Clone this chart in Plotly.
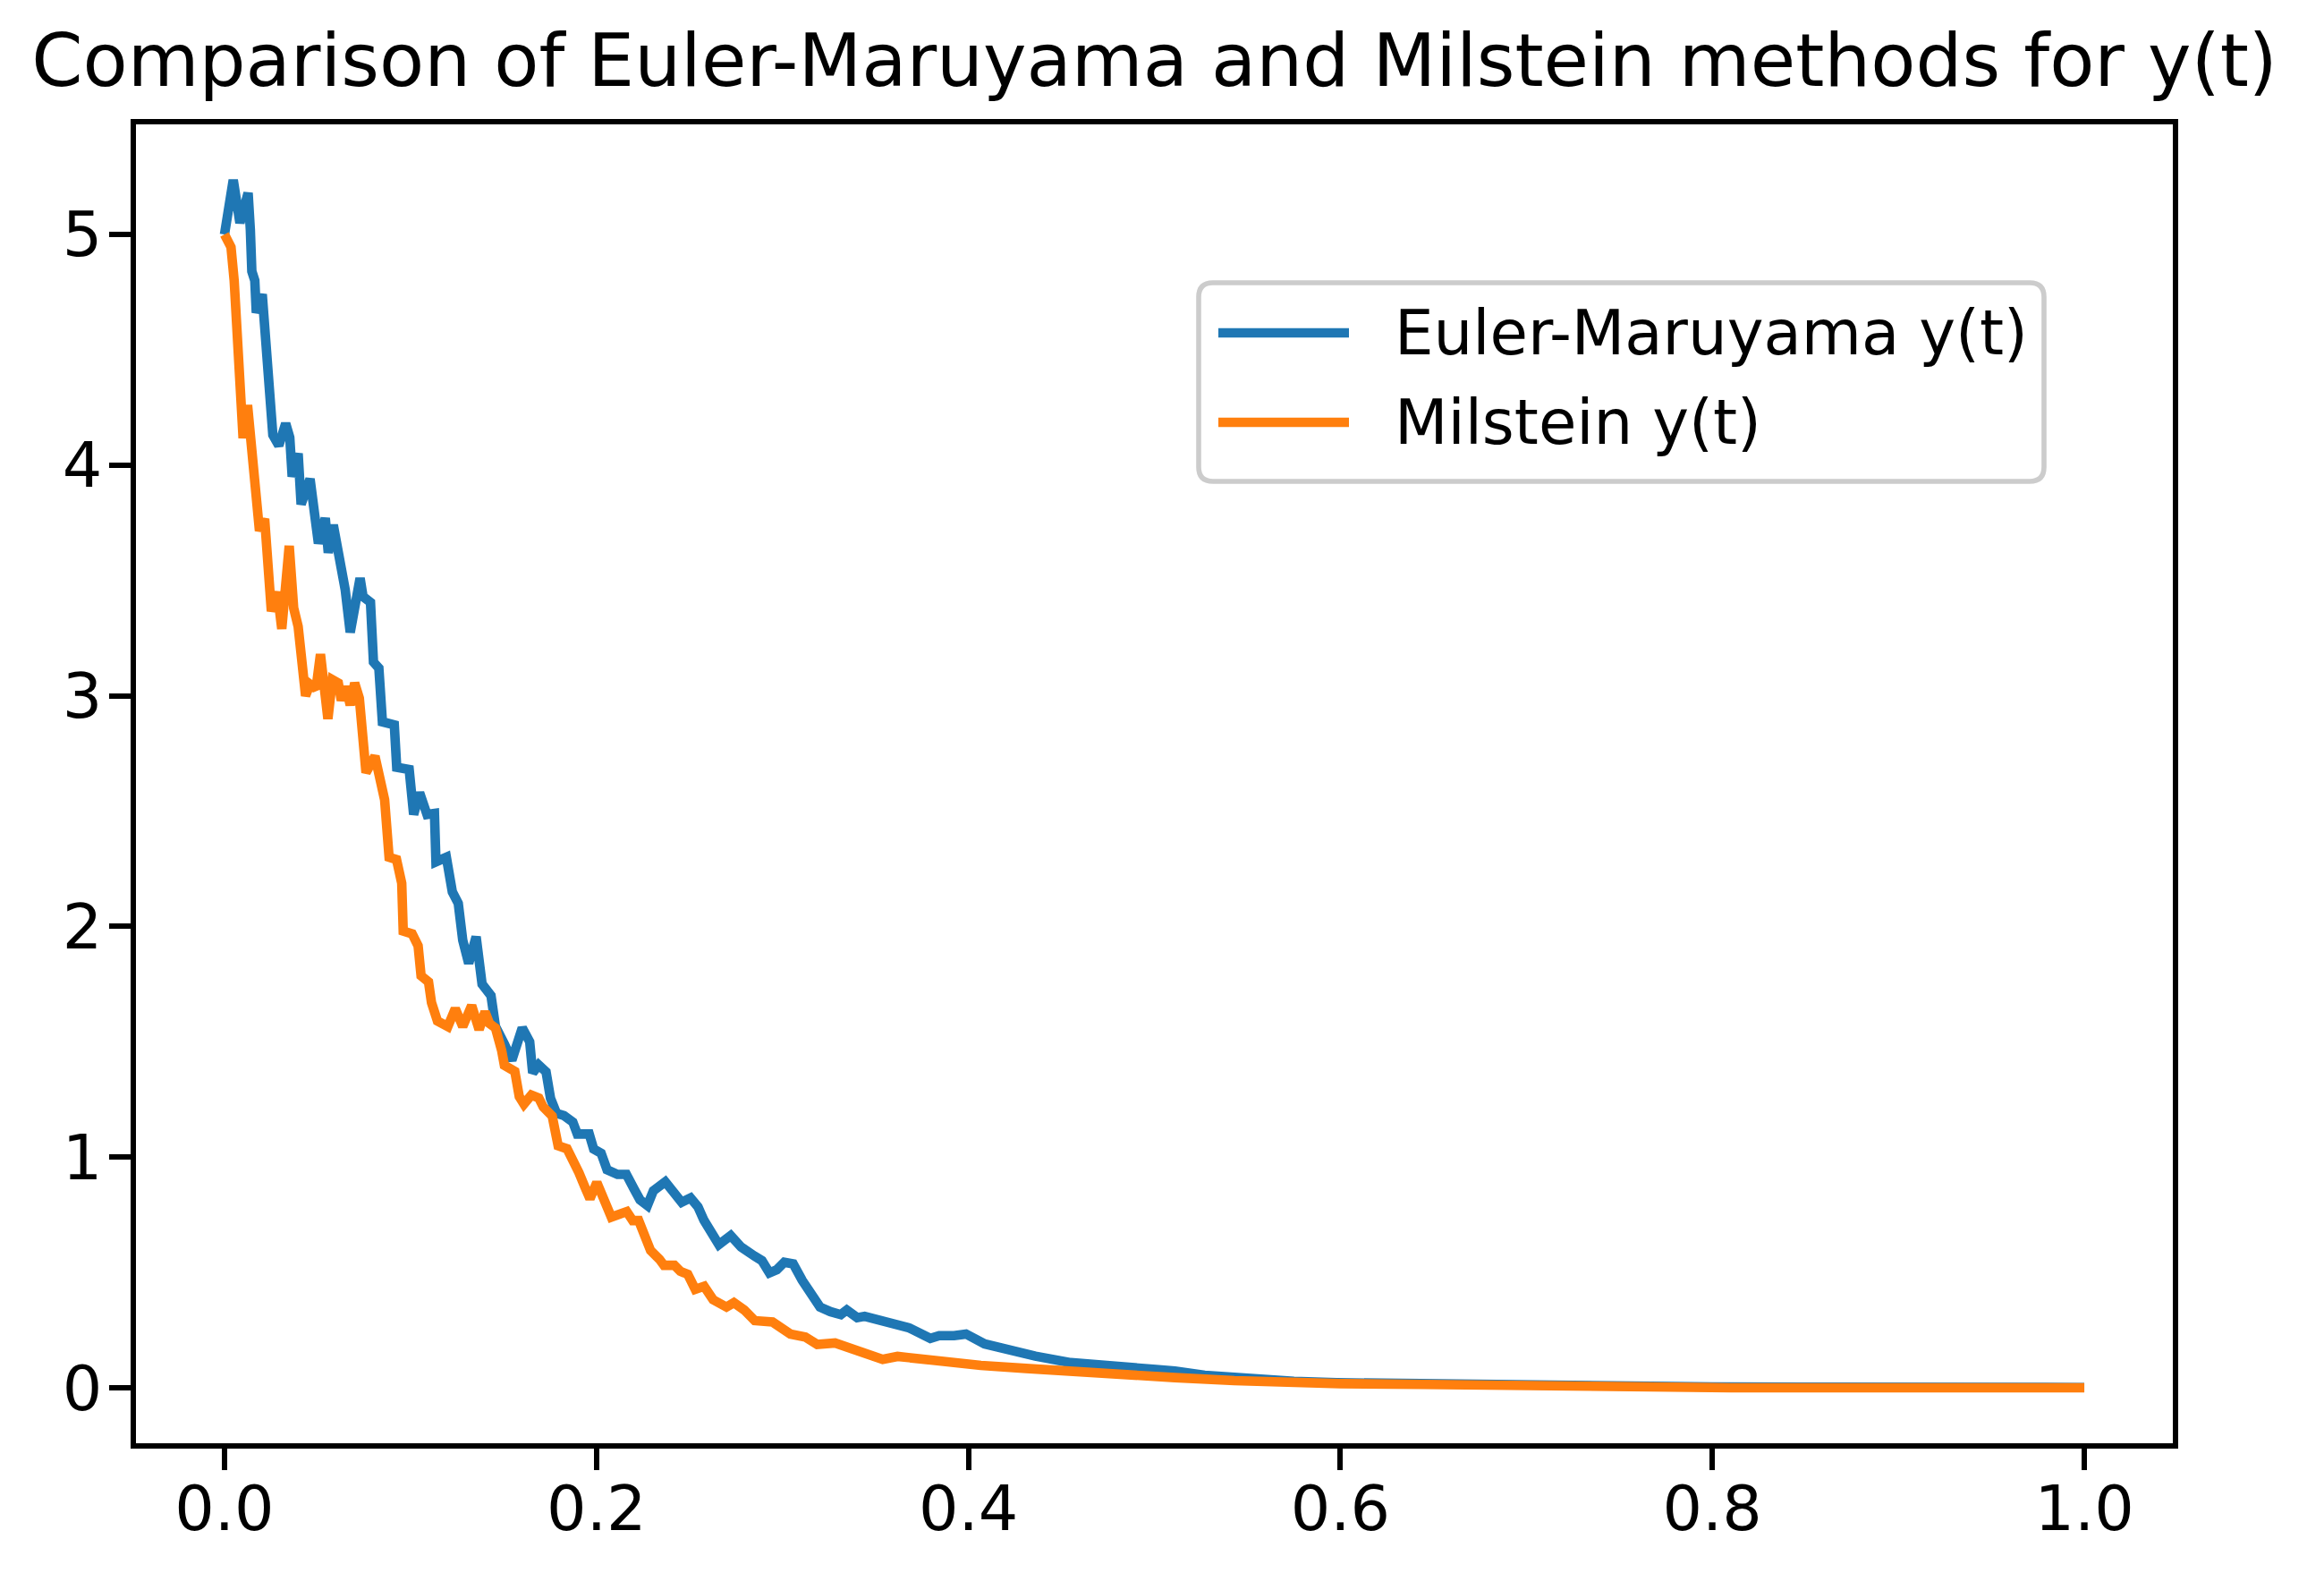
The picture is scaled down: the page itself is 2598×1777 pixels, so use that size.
import plotly.graph_objects as go

# ---------------- data ----------------
t_euler = [0.0, 0.0047, 0.0083, 0.0127, 0.0139, 0.0147, 0.0163, 0.0171, 0.0203, 0.0216,
           0.0236, 0.0252, 0.026, 0.0292, 0.0329, 0.0351, 0.0364, 0.0396, 0.0412, 0.046,
           0.0505, 0.0542, 0.0558, 0.0585, 0.0616, 0.0649, 0.0676, 0.0729, 0.0745, 0.0785,
           0.0801, 0.083, 0.0849, 0.0913, 0.0926, 0.0993, 0.1017, 0.1049, 0.1089, 0.1129,
           0.1137, 0.1193, 0.1225, 0.1257, 0.1281, 0.1313, 0.1353, 0.1385, 0.1433, 0.1457,
           0.1505, 0.1545, 0.1601, 0.1641, 0.1657, 0.1689, 0.1729, 0.1753, 0.1785, 0.1825,
           0.1873, 0.1897, 0.1961, 0.1985, 0.2025, 0.2057, 0.2113, 0.2161, 0.2202, 0.2234,
           0.2274, 0.2306, 0.237, 0.2426, 0.2458, 0.2506, 0.2546, 0.2578, 0.2618, 0.2658,
           0.2722, 0.2778, 0.285, 0.289, 0.293, 0.297, 0.301, 0.3058, 0.3106, 0.3162,
           0.3202, 0.3258, 0.3314, 0.3346, 0.3402, 0.3442, 0.3522, 0.3602, 0.3683, 0.3795,
           0.3843, 0.3923, 0.3987, 0.4087, 0.423, 0.436, 0.455, 0.479, 0.495, 0.511,
           0.527, 0.543, 0.559, 0.575, 0.598, 0.65, 0.7, 0.75, 0.8, 0.85,
           0.9, 0.93, 1.0]
y_euler = [5.0, 5.236, 5.05, 5.18, 5.02, 4.84, 4.80, 4.66, 4.74, 4.60,
           4.285, 4.23, 4.13, 4.085, 4.18, 4.12, 3.95, 4.05, 3.83, 3.94,
           3.66, 3.77, 3.62, 3.74, 3.62, 3.46, 3.275, 3.51, 3.43, 3.405,
           3.146, 3.12, 2.887, 2.874, 2.69, 2.68, 2.485, 2.58, 2.485, 2.49,
           2.28, 2.30, 2.15, 2.10, 1.94, 1.84, 1.955, 1.75, 1.70, 1.566,
           1.49, 1.42, 1.56, 1.50, 1.365, 1.40, 1.37, 1.255, 1.19, 1.18,
           1.152, 1.10, 1.10, 1.035, 1.017, 0.945, 0.925, 0.925, 0.862, 0.815,
           0.79, 0.854, 0.893, 0.843, 0.804, 0.823, 0.784, 0.726, 0.668, 0.621,
           0.66, 0.61, 0.571, 0.551, 0.498, 0.512, 0.544, 0.537, 0.466, 0.401,
           0.35, 0.33, 0.317, 0.337, 0.304, 0.31, 0.291, 0.272, 0.259, 0.214,
           0.226, 0.226, 0.233, 0.19, 0.158, 0.137, 0.109, 0.096, 0.083, 0.073,
           0.054, 0.042, 0.034, 0.028, 0.022, 0.015, 0.01, 0.007, 0.004, 0.003,
           0.003, 0.004, 0.001]

t_milstein = [0.0, 0.002, 0.0035, 0.0052, 0.0068, 0.0076, 0.0089, 0.01, 0.0124, 0.014,
              0.0164, 0.0188, 0.0216, 0.0236, 0.0252, 0.0284, 0.0308, 0.0348, 0.0372, 0.0396,
              0.0412, 0.0436, 0.046, 0.0492, 0.0516, 0.0556, 0.058, 0.0612, 0.0628, 0.0652,
              0.0676, 0.07, 0.0725, 0.0741, 0.0761, 0.0809, 0.0837, 0.0861, 0.0885, 0.0925,
              0.0953, 0.0961, 0.1009, 0.1041, 0.1057, 0.1097, 0.1113, 0.1145, 0.1201, 0.1241,
              0.1281, 0.1329, 0.1369, 0.1401, 0.1425, 0.1457, 0.149, 0.1505, 0.1561, 0.1585,
              0.161, 0.165, 0.169, 0.1714, 0.1762, 0.1794, 0.1842, 0.1874, 0.1906, 0.1938,
              0.1965, 0.2002, 0.2045, 0.208, 0.2163, 0.2195, 0.2227, 0.2291, 0.2339, 0.2363,
              0.2419, 0.2451, 0.2491, 0.2531, 0.2579, 0.2627, 0.2699, 0.2739, 0.2795, 0.2851,
              0.2947, 0.3043, 0.3123, 0.3187, 0.3283, 0.3411, 0.3539, 0.3619, 0.3699, 0.3795,
              0.3923, 0.4067, 0.431, 0.455, 0.479, 0.511, 0.543, 0.575, 0.6, 0.645,
              0.70, 0.727, 0.757, 0.81, 1.0]
y_milstein = [5.0, 4.97, 4.945, 4.80, 4.595, 4.39, 4.246, 4.117, 4.26, 4.13,
              3.85, 3.715, 3.767, 3.456, 3.366, 3.45, 3.29, 3.65, 3.38, 3.30,
              3.146, 3.0, 3.05, 3.03, 3.18, 2.90, 3.07, 3.055, 2.98, 3.04,
              2.96, 3.055, 2.99, 2.81, 2.667, 2.738, 2.628, 2.549, 2.30, 2.29,
              2.187, 1.98, 1.968, 1.916, 1.786, 1.76, 1.67, 1.59, 1.566, 1.644,
              1.566, 1.657, 1.553, 1.63, 1.579, 1.56, 1.463, 1.398, 1.372, 1.262,
              1.23, 1.269, 1.256, 1.217, 1.178, 1.049, 1.036, 0.97, 0.932, 0.87,
              0.82, 0.89, 0.80, 0.74, 0.764, 0.725, 0.725, 0.595, 0.557, 0.531,
              0.531, 0.505, 0.492, 0.427, 0.44, 0.382, 0.35, 0.369, 0.337, 0.291,
              0.285, 0.233, 0.22, 0.188, 0.194, 0.162, 0.123, 0.136, 0.129, 0.117,
              0.104, 0.097, 0.084, 0.07, 0.058, 0.044, 0.031, 0.021, 0.018, 0.0144,
              0.0105, 0.0066, 0.0027, 0.0, 0.0]

series_names = ["Euler-Maruyama y(t)", "Milstein y(t)"]
series_colors = ["#1f77b4", "#ff7f0e"]
x_ticks = [0.0, 0.2, 0.4, 0.6, 0.8, 1.0]
y_ticks = [0, 1, 2, 3, 4, 5]
title_text = "Comparison of Euler-Maruyama and Milstein methods for y(t)"

# ---------------- layout constants ----------------
W, H = 2598, 1777
# plotly draws the frame just outside the plot area: inset by half the line width
ML, MR, MT, MB = 152, 169, 139, 164
PW, PH = W - ML - MR, H - MT - MB
FONT = "DejaVu Sans"
LW = 10.6
SPINE = 5.6

fig = go.Figure()
fig.add_trace(go.Scatter(x=t_euler, y=y_euler, mode="lines", name=series_names[0],
                         line=dict(color=series_colors[0], width=LW), showlegend=False))
fig.add_trace(go.Scatter(x=t_milstein, y=y_milstein, mode="lines", name=series_names[1],
                         line=dict(color=series_colors[1], width=LW), showlegend=False))

axis_common = dict(showline=True, linecolor="black", linewidth=SPINE, mirror=True,
                   ticks="outside", ticklen=24, tickwidth=SPINE, tickcolor="black",
                   showgrid=False, zeroline=False,
                   tickfont=dict(family=FONT, size=70, color="black"))
fig.update_xaxes(range=[-0.0476, 1.0476], tickvals=x_ticks,
                 ticktext=["%.1f" % v for v in x_ticks], ticklabelstandoff=-17,
                 **axis_common)
fig.update_yaxes(range=[-0.2405, 5.477], tickvals=y_ticks,
                 ticktext=[str(v) for v in y_ticks], ticklabelstandoff=-6,
                 **axis_common)

# ---------------- custom matplotlib-like legend ----------------
def px_x(px):
    return (px - ML) / PW

def px_y(py):
    return (H - MB - py) / PH

bx0, bx1 = px_x(1340), px_x(2285)
by1, by0 = px_y(316), px_y(538)
rx, ry = 16 / PW, 16 / PH
path = (f"M {bx0+rx},{by1} L {bx1-rx},{by1} Q {bx1},{by1} {bx1},{by1-ry} "
        f"L {bx1},{by0+ry} Q {bx1},{by0} {bx1-rx},{by0} L {bx0+rx},{by0} "
        f"Q {bx0},{by0} {bx0},{by0+ry} L {bx0},{by1-ry} Q {bx0},{by1} {bx0+rx},{by1} Z")
shapes = [dict(type="path", xref="paper", yref="paper", path=path,
               line=dict(color="#cccccc", width=SPINE), fillcolor="rgba(255,255,255,0.8)")]
annotations = []
row_y = [372, 472]
for name, color, ry_px in zip(series_names, series_colors, row_y):
    shapes.append(dict(type="line", xref="paper", yref="paper",
                       x0=px_x(1362), x1=px_x(1508), y0=px_y(ry_px), y1=px_y(ry_px),
                       line=dict(color=color, width=LW)))
    annotations.append(dict(text=name, xref="paper", yref="paper", x=px_x(1557),
                            y=px_y(ry_px), xanchor="left", yanchor="middle", showarrow=False,
                            font=dict(family=FONT, size=69, color="black")))

fig.update_layout(
    width=W, height=H, autosize=False,
    margin=dict(l=ML, r=MR, t=MT, b=MB, pad=0),
    paper_bgcolor="white", plot_bgcolor="white",
    title=dict(text=title_text, x=0.5, xref="paper", xanchor="center",
               y=1, yref="paper", yanchor="bottom", pad=dict(b=43),
               font=dict(family=FONT, size=82, color="black")),
    shapes=shapes, annotations=annotations,
    showlegend=False,
)

fig.write_html(
    "out.html",
    config={"displayModeBar": False},
    post_script=("document.body.style.margin='0';document.body.style.padding='0';"
                 "document.documentElement.style.overflow='hidden';"),
)
